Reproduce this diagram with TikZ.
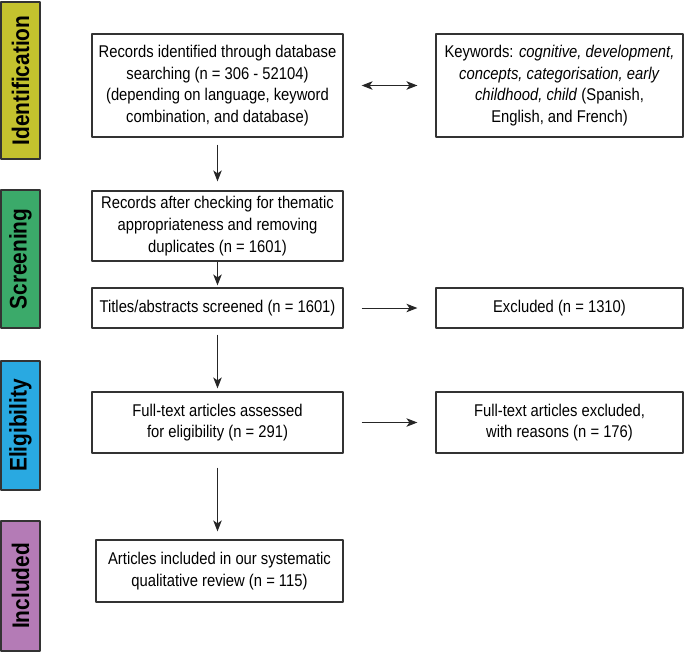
\documentclass[tikz,border=0pt]{standalone}
\usepackage{fontspec}
\setmainfont{Liberation Sans}[FakeStretch=0.87]
\usetikzlibrary{arrows.meta}
\definecolor{identcol}{HTML}{C4C22E}
\definecolor{screencol}{HTML}{3BAA6A}
\definecolor{eligcol}{HTML}{29A9E1}
\definecolor{inclcol}{HTML}{B47BB6}
\begin{document}
\begin{tikzpicture}[x=1pt, y=-1pt, line join=round, >={Stealth[length=11pt,width=8.5pt,inset=3pt]}]
			\tikzset{box/.style={draw=black!80, line width=1.2pt, align=center, inner sep=0pt,
					font=\fontsize{17}{21.7}\selectfont},
				stage/.style={draw=black!80, line width=1.2pt, minimum width=39pt, inner sep=0pt},
				stagetext/.style={rotate=90, font=\fontsize{24}{24}\selectfont\bfseries},
				link/.style={->, line width=1pt, black!85}}
			\useasboundingbox (0,0) rectangle (685,653);
			\def\wl{251} \def\wr{247}
			\node[stage, fill=identcol, minimum height=157pt] (ident) at (20.5,80.5) {};
			\node[stage, fill=screencol, minimum height=138pt] (screen) at (20.5,259) {};
			\node[stage, fill=eligcol, minimum height=129pt] (elig) at (20.5,425.5) {};
			\node[stage, fill=inclcol, minimum height=130pt] (incl) at (20.5,586) {};
			\foreach \s/\t in {ident/Identification, screen/Screening, elig/Eligibility, incl/Included}
				\node[stagetext] at (\s) {\t};
			\node[box, minimum width=\wl pt, minimum height=103pt] (found) at (217.5,85.5)
				{Records identified through database\\ searching (n = 306 - 52104)\\ (depending on language, keyword\\ combination, and database)};
			\node[box, minimum width=\wr pt, minimum height=103pt] (keys) at (559.5,85.5)
				{Keywords: \textit{cognitive, development,}\\ \textit{concepts, categorisation, early}\\ \textit{childhood, child} (Spanish,\\ English, and French)};
			\node[box, minimum width=\wl pt, minimum height=70pt] (checked) at (217.5,226)
				{Records after checking for thematic\\ appropriateness and removing\\ duplicates (n = 1601)};
			\node[box, minimum width=\wl pt, minimum height=40pt] (titles) at (217.5,308)
				{Titles/abstracts screened (n = 1601)};
			\node[box, minimum width=\wr pt, minimum height=40pt] (excl) at (559.5,308)
				{Excluded (n = 1310)};
			\node[box, minimum width=\wl pt, minimum height=61pt] (fulltext) at (217.5,422.5)
				{Full-text articles assessed\\ for eligibility (n = 291)};
			\node[box, minimum width=\wr pt, minimum height=61pt] (fullexcl) at (559.5,422.5)
				{Full-text articles excluded,\\ with reasons (n = 176)};
			\node[box, minimum width=\wr pt, minimum height=62pt] (review) at (219.5,571)
				{Articles included in our systematic\\ qualitative review (n = 115)};
			\draw[link, <->, shorten <=18pt, shorten >=18pt] (found) -- (keys);
			\draw[link, shorten <=7pt, shorten >=9pt] (found) -- (checked);
			\draw[link, shorten >=2pt] (checked) -- (titles);
			\draw[link, shorten <=18pt, shorten >=18pt] (titles) -- (excl);
			\draw[link, shorten <=6pt, shorten >=3pt] (titles) -- (fulltext);
			\draw[link, shorten <=18pt, shorten >=18pt] (fulltext) -- (fullexcl);
			\draw[link, shorten <=14pt, shorten >=8pt] (fulltext.south) -- (fulltext.south |- review.north);
		\end{tikzpicture}
\end{document}
